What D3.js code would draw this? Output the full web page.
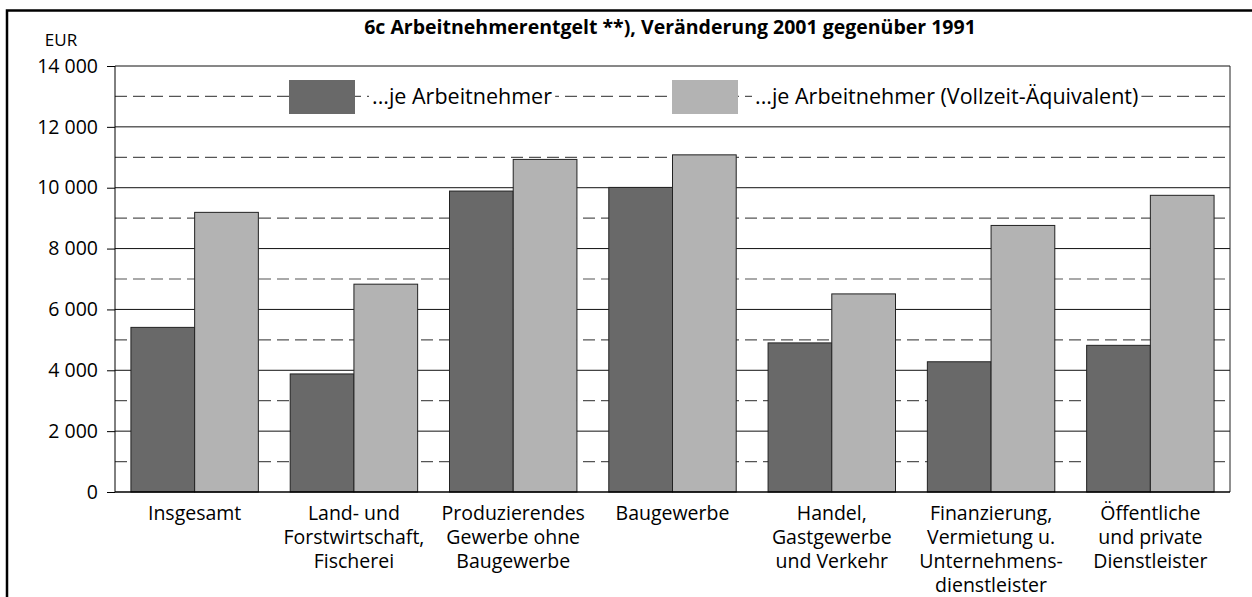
<!DOCTYPE html>
<html>
<head>
<meta charset="utf-8">
<script src="https://cdn.jsdelivr.net/npm/d3@7"></script>
<style>
  body { margin: 0; background: #fff; }
  text { font-family: "Open Sans", sans-serif; fill: #000; }
</style>
</head>
<body>
<div id="viz"></div>
<script>
const darkColor = "#696969";
const lightColor = "#b3b3b3";

// category labels, one entry per line
const categories = [
  ["Insgesamt"],
  ["Land- und", "Forstwirtschaft,", "Fischerei"],
  ["Produzierendes", "Gewerbe ohne", "Baugewerbe"],
  ["Baugewerbe"],
  ["Handel,", "Gastgewerbe", "und Verkehr"],
  ["Finanzierung,", "Vermietung u.", "Unternehmens-", "dienstleister"],
  ["Öffentliche", "und private", "Dienstleister"]
];
const jeArbeitnehmer = [5410, 3880, 9890, 10010, 4900, 4280, 4820];
const jeVollzeit = [9190, 6830, 10930, 11080, 6510, 8760, 9750];
const seriesNames = ["...je Arbeitnehmer", "...je Arbeitnehmer (Vollzeit-Äquivalent)"];
const majorTicks = [0, 2000, 4000, 6000, 8000, 10000, 12000, 14000];
const minorTicks = [1000, 3000, 5000, 7000, 9000, 11000, 13000];
const title = "6c Arbeitnehmerentgelt **), Veränderung 2001 gegenüber 1991";

const w = 1252, h = 597;
const svg = d3.select("#viz")
  .append("svg")
  .attr("width", w)
  .attr("height", h);

const pLeft = 115, pRight = 1230, pTop = 66, pBottom = 492;

const x = d3.scaleBand()
  .domain(d3.range(categories.length))
  .range([pLeft, pRight])
  .paddingInner(0.2)
  .paddingOuter(0.1);
const xSub = d3.scaleBand()
  .domain([0, 1])
  .range([0, x.bandwidth()]);
const y = d3.scaleLinear()
  .domain([0, 14000])
  .range([pBottom, pTop]);

// outer frame (left + top only visible)
svg.append("path")
  .attr("d", `M7,${h + 5} V10.5 H${w + 5}`)
  .attr("fill", "none")
  .attr("stroke", "#000")
  .attr("stroke-width", 2.5);

// title
svg.append("text")
  .attr("x", 670)
  .attr("y", 34)
  .attr("text-anchor", "middle")
  .style("font-weight", "bold")
  .style("font-size", "19.5px")
  .text(title);

svg.append("text")
  .attr("x", 61)
  .attr("y", 46)
  .attr("text-anchor", "middle")
  .style("font-size", "17px")
  .text("EUR");

// gridlines
svg.append("g")
  .selectAll("line")
  .data(minorTicks)
  .join("line")
  .attr("x1", pLeft).attr("x2", pRight)
  .attr("y1", d => y(d)).attr("y2", d => y(d))
  .attr("stroke", "#555")
  .attr("stroke-width", 1.2)
  .attr("stroke-dasharray", "12,6");

svg.append("g")
  .selectAll("line")
  .data(majorTicks.filter(d => d > 0))
  .join("line")
  .attr("x1", pLeft).attr("x2", pRight)
  .attr("y1", d => y(d)).attr("y2", d => y(d))
  .attr("stroke", "#111")
  .attr("stroke-width", 1);

// right border of plot
svg.append("line")
  .attr("x1", pRight).attr("x2", pRight)
  .attr("y1", pTop).attr("y2", pBottom)
  .attr("stroke", "#222");

// legend
const legendItems = [
  { sx: 289, sw: 66, tx: 372, color: darkColor, name: seriesNames[0] },
  { sx: 672, sw: 66, tx: 755, color: lightColor, name: seriesNames[1] }
];
const lg = svg.append("g");
legendItems.forEach(item => {
  lg.append("rect")
    .attr("x", item.sx).attr("y", 80)
    .attr("width", item.sw).attr("height", 34)
    .attr("fill", item.color);
  const bg = lg.append("rect").attr("fill", "#fff");
  const t = lg.append("text")
    .attr("x", item.tx)
    .attr("y", y(13000))
    .attr("dy", "0.35em")
    .style("font-size", "21.5px")
    .text(item.name);
  const bb = t.node().getBBox();
  bg.attr("x", bb.x - 3).attr("y", bb.y + 3)
    .attr("width", bb.width + 6).attr("height", bb.height - 6);
});

// bars
const groups = svg.append("g")
  .selectAll("g")
  .data(categories.map((c, i) => i))
  .join("g")
  .attr("transform", i => `translate(${x(i)},0)`);

groups.selectAll("rect")
  .data(i => [jeArbeitnehmer[i], jeVollzeit[i]])
  .join("rect")
  .attr("x", (d, j) => xSub(j))
  .attr("y", d => y(d))
  .attr("width", xSub.bandwidth())
  .attr("height", d => y(0) - y(d))
  .attr("fill", (d, j) => j === 0 ? darkColor : lightColor)
  .attr("stroke", "#222")
  .attr("stroke-width", 1);

// y axis
const yAxis = d3.axisLeft(y)
  .tickValues(majorTicks)
  .tickSize(8)
  .tickPadding(9)
  .tickFormat(d => d3.format(",")(d).replace(",", " "));
const ya = svg.append("g")
  .attr("transform", `translate(${pLeft},0)`)
  .call(yAxis);
ya.select(".domain").attr("stroke", "#000").attr("d", `M0,${pTop}V${pBottom}`);
ya.selectAll(".tick line").attr("stroke", "#000");
ya.selectAll(".tick text")
  .style("font-family", "'Open Sans', sans-serif")
  .style("font-size", "19.5px")
  .attr("fill", "#000");

// baseline
svg.append("line")
  .attr("x1", pLeft).attr("x2", pRight)
  .attr("y1", y(0)).attr("y2", y(0))
  .attr("stroke", "#000")
  .attr("stroke-width", 1.5);

// category labels
const labels = svg.append("g")
  .selectAll("text")
  .data(categories)
  .join("text")
  .attr("x", (d, i) => x(i) + x.bandwidth() / 2)
  .attr("y", 520)
  .attr("text-anchor", "middle")
  .style("font-size", "19.5px");
labels.selectAll("tspan")
  .data(d => d)
  .join("tspan")
  .attr("x", function () { return d3.select(this.parentNode).attr("x"); })
  .attr("dy", (d, k) => k === 0 ? 0 : 24)
  .text(d => d);
</script>
</body>
</html>
